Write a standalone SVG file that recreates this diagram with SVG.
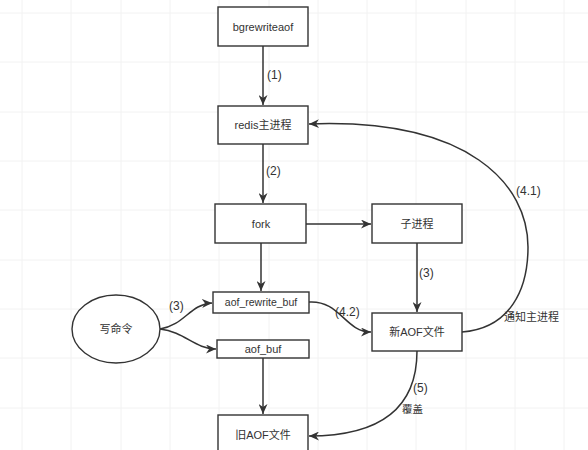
<svg xmlns="http://www.w3.org/2000/svg" width="588" height="450" viewBox="0 0 588 450">
<defs>
<style>
.box{fill:#fff;stroke:#333;stroke-width:1.4}
.t{font-family:"Liberation Sans","Noto Sans CJK SC",sans-serif;font-size:11px;fill:#333;text-anchor:middle}
.l{font-family:"Liberation Sans","Noto Sans CJK SC",sans-serif;font-size:12px;fill:#333}
.c{fill:none;stroke:#333;stroke-width:1.5}
.g{stroke:#f2f2f2;stroke-width:1}
</style>
<marker id="ah" markerUnits="userSpaceOnUse" markerWidth="11" markerHeight="9" refX="10" refY="4.5" orient="auto" viewBox="0 0 11 9">
<path d="M0,0 L10,4.5 L0,9 L3,4.5 Z" fill="#333"/>
</marker>
</defs>
<rect width="588" height="450" fill="#fff"/>
<g id="grid">
<path class="g" d="M22,0V450M71,0V450M121,0V450M170,0V450M219,0V450M269,0V450M318,0V450M367,0V450M416,0V450M466,0V450M515,0V450M564,0V450M0,13H588M0,62H588M0,112H588M0,161H588M0,210H588M0,260H588M0,309H588M0,358H588M0,408H588"/>
</g>
<g id="connectors">
<path class="c" d="M263,46 V105" marker-end="url(#ah)"/>
<path class="c" d="M263,144 V203" marker-end="url(#ah)"/>
<path class="c" d="M306,224 H371" marker-end="url(#ah)"/>
<path class="c" d="M261,243 V291" marker-end="url(#ah)"/>
<path class="c" d="M417,243 V312" marker-end="url(#ah)"/>
<path class="c" d="M160,329 C185,325 190,304 212,303" marker-end="url(#ah)"/>
<path class="c" d="M160,329 C185,332 195,349 216,349" marker-end="url(#ah)"/>
<path class="c" d="M309,302 C340,300 345,332 371,332" marker-end="url(#ah)"/>
<path class="c" d="M462,332 C510,328 528,290 528,247 C528,185 470,118 309,124" marker-end="url(#ah)"/>
<path class="c" d="M263,358 V414" marker-end="url(#ah)"/>
<path class="c" d="M417,351 C417,405 385,436 309,436" marker-end="url(#ah)"/>
<text class="l" x="267" y="79">(1)</text>
<text class="l" x="266" y="175">(2)</text>
<text class="l" x="169" y="310">(3)</text>
<text class="l" x="419" y="277">(3)</text>
<text class="l" x="516" y="195">(4.1)</text>
<text class="l" x="504" y="321" style="font-size:11px">通知主进程</text>
<text class="l" x="335" y="316">(4.2)</text>
<text class="l" x="413" y="392">(5)</text>
<text class="l" x="402" y="413" style="font-size:10.5px">覆盖</text>
</g>
<g id="bgrewriteaof"><rect class="box" x="218" y="7" width="90" height="39"/><text class="t" x="263" y="31">bgrewriteaof</text></g>
<g id="redis"><rect class="box" x="218" y="106" width="90" height="38"/><text class="t" x="263" y="129">redis主进程</text></g>
<g id="fork"><rect class="box" x="215" y="204" width="91" height="39"/><text class="t" x="261" y="228">fork</text></g>
<g id="child"><rect class="box" x="372" y="204" width="90" height="39"/><text class="t" x="417" y="228">子进程</text></g>
<g id="aof_rewrite_buf"><rect class="box" x="213" y="292" width="96" height="21"/><text class="t" x="261" y="306" style="font-size:10.5px">aof_rewrite_buf</text></g>
<g id="aof_buf"><rect class="box" x="217" y="340" width="92" height="18"/><text class="t" x="263" y="353">aof_buf</text></g>
<g id="write"><ellipse class="box" cx="116" cy="329" rx="44" ry="34"/><text class="t" x="116" y="333">写命令</text></g>
<g id="newaof"><rect class="box" x="372" y="313" width="90" height="38"/><text class="t" x="417" y="336">新AOF文件</text></g>
<g id="oldaof"><rect class="box" x="218" y="415" width="90" height="40"/><text class="t" x="263" y="439">旧AOF文件</text></g>
</svg>
